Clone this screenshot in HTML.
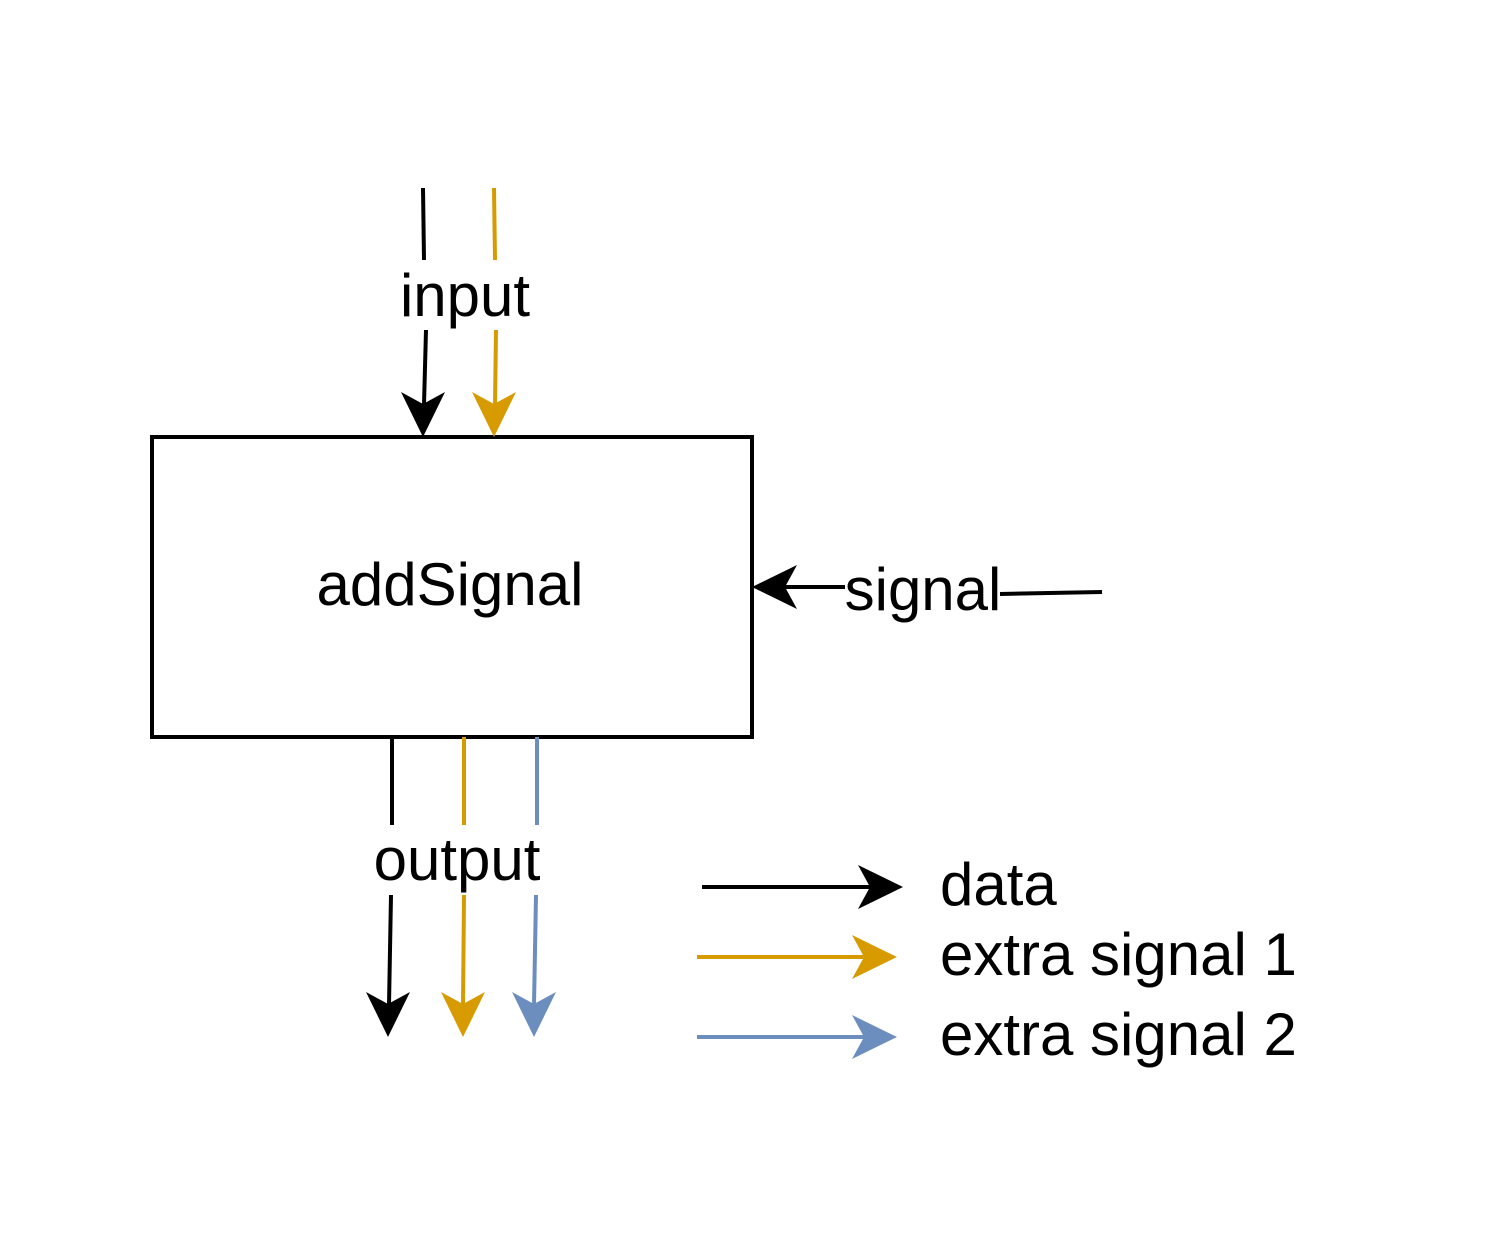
<!DOCTYPE html>
<html><head><meta charset="utf-8"><style>
html,body{margin:0;padding:0;background:#fff}
svg text{font-family:"Liberation Sans",sans-serif;font-size:60px;fill:#000}
</style></head><body>
<svg width="1505" height="1230" viewBox="0 0 1505 1230" xmlns="http://www.w3.org/2000/svg">
<rect width="1505" height="1230" fill="#fff"/>
<rect x="152" y="437" width="600" height="300" fill="#fff" stroke="#000" stroke-width="4"/>
<text x="450" y="605" text-anchor="middle">addSignal</text>
<g stroke-width="4" fill="none">
<path d="M423 188 L424 260 M426 330 L424 405" stroke="#000"/>
<path d="M494 188 L495 260 M496 330 L495 405" stroke="#d79b00"/>
<path d="M1102 592 L1000 594 M845 587 L785 587" stroke="#000"/>
<path d="M392 737 L392 825 M391 895 L389 1005" stroke="#000"/>
<path d="M464 737 L464 825 M464 895 L463 1005" stroke="#d79b00"/>
<path d="M537 737 L537 825 M536 895 L534 1005" stroke="#6c8ebf"/>
<path d="M702 887 L870 887" stroke="#000"/>
<path d="M697 957 L865 957" stroke="#d79b00"/>
<path d="M697 1037 L865 1037" stroke="#6c8ebf"/>
</g>
<path d="M423 437 L401 392 L423 404 L445 392 Z" fill="#000"/>
<path d="M494 437 L472 392 L494 404 L516 392 Z" fill="#d79b00"/>
<path d="M752 587 L797 565 L785 587 L797 609 Z" fill="#000"/>
<path d="M388 1037 L366 992 L388 1004 L410 992 Z" fill="#000"/>
<path d="M463 1037 L441 992 L463 1004 L485 992 Z" fill="#d79b00"/>
<path d="M534 1037 L512 992 L534 1004 L556 992 Z" fill="#6c8ebf"/>
<path d="M903 887 L858 865 L870 887 L858 909 Z" fill="#000"/>
<path d="M897 957 L852 935 L864 957 L852 979 Z" fill="#d79b00"/>
<path d="M897 1037 L852 1015 L864 1037 L852 1059 Z" fill="#6c8ebf"/>
<text x="465" y="316" text-anchor="middle">input</text>
<text x="923" y="610" text-anchor="middle">signal</text>
<text x="457" y="880" text-anchor="middle">output</text>
<text x="940" y="905">data</text>
<text x="940" y="975">extra signal 1</text>
<text x="940" y="1055">extra signal 2</text>
</svg>
</body></html>
